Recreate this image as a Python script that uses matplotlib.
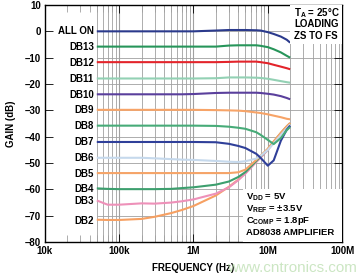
import matplotlib.pyplot as plt
from matplotlib.ticker import FixedLocator, NullFormatter
from matplotlib.patches import Rectangle

# shared frequency points (Hz)
freq = [5e4, 7e4, 1e5, 2e5, 3e5, 5e5, 7e5, 1e6, 2e6, 3e6, 4e6, 5e6,
        7e6, 8e6, 1e7, 1.2e7, 1.5e7, 1.8e7, 2e7]

labels = ["ALL ON", "DB13", "DB12", "DB11", "DB10", "DB9", "DB8",
          "DB7", "DB6", "DB5", "DB4", "DB3", "DB2"]
label_y = [0, -6, -12, -18, -24, -30, -36, -42, -48, -54, -60, -64.5, -72]

all_on = [0.0, 0.0, 0.0, 0.0, 0.0, 0.0, 0.0, 0.0, 0.3, 0.5, 0.5, 0.5,
          0.4, 0.3, -0.3, -1.0, -2.0, -3.2, -4.3]
db13 = [-5.8, -5.8, -5.8, -5.8, -5.8, -5.8, -5.8, -5.8, -5.8, -5.4, -5.3, -5.3,
        -5.3, -5.5, -6.0, -6.8, -8.0, -9.3, -10.0]
db12 = [-11.7, -11.7, -11.7, -11.7, -11.7, -11.7, -11.7, -11.7, -11.7, -11.6, -11.5, -11.5,
        -11.5, -11.7, -12.1, -12.7, -13.4, -14.0, -14.4]
db11 = [-17.9, -17.9, -17.9, -17.9, -17.9, -17.9, -17.9, -17.9, -17.8, -17.5, -17.5, -17.5,
        -17.6, -17.7, -18.0, -18.4, -18.9, -19.3, -19.5]
db10 = [-23.9, -23.9, -23.9, -23.9, -23.9, -23.9, -23.9, -23.8, -23.4, -23.3, -23.3, -23.3,
        -23.3, -23.4, -23.7, -24.0, -24.6, -25.3, -25.8]
db9 = [-29.8, -29.8, -29.8, -29.8, -29.8, -29.8, -29.8, -29.8, -29.9, -30.0, -30.1, -30.3,
       -30.8, -31.0, -31.5, -32.0, -32.6, -33.2, -33.4]
db8 = [-35.8, -35.8, -35.8, -35.8, -35.8, -35.8, -35.8, -35.8, -35.9, -36.2, -36.6, -37.0,
       -38.3, -39.3, -41.2, -42.8, -40.5, -37.5, -36.3]
db7 = [-42.0, -42.0, -42.0, -42.0, -42.0, -42.0, -42.0, -42.0, -42.1, -42.7, -43.5, -44.3,
       -46.5, -48.0, -51.0, -49.0, -41.5, -37.3, -35.8]
db6 = [-48.0, -48.0, -48.0, -48.0, -48.2, -48.5, -48.7, -48.8, -49.2, -49.5, -49.6, -49.3,
       -48.3, -47.3, -45.0, -42.5, -39.3, -36.8, -35.3]
db5 = [-53.8, -53.8, -53.8, -53.8, -53.8, -53.8, -53.8, -53.8, -53.8, -53.8, -53.5, -52.5,
       -48.8, -47.2, -44.6, -41.8, -38.5, -36.0, -34.8]
db4 = [-59.6, -59.8, -59.9, -59.9, -59.9, -59.8, -59.5, -59.2, -58.2, -57.0, -55.3, -53.4,
       -49.2, -47.5, -44.8, -42.0, -38.7, -36.2, -35.0]
db3 = [-64.2, -65.8, -65.8, -65.3, -65.4, -65.0, -64.5, -63.8, -61.6, -59.2, -56.5, -54.0,
       -49.6, -48.0, -45.0, -42.2, -38.9, -36.4, -35.2]
db2 = [-71.5, -71.6, -71.6, -71.2, -70.4, -69.0, -67.8, -66.3, -62.3, -59.0, -56.3, -53.7,
       -49.2, -47.6, -44.7, -41.9, -38.6, -36.1, -34.8]

series = [all_on, db13, db12, db11, db10, db9, db8, db7, db6, db5, db4, db3, db2]
colors = ["#2b3a8c", "#27955a", "#e3242b", "#93d1b4", "#5a3f9c", "#f7a468",
          "#47ab78", "#2f3f99", "#c6d9ec", "#f5a468", "#3d9f6e", "#ee91b9", "#f6a062"]

top_note = ["T$_\\mathbf{A}$ = 25°C", "LOADING", "ZS TO FS"]
bottom_note = ["V$_\\mathbf{DD}$ = 5V", "V$_\\mathbf{REF}$ = \u00b13.5V",
               "C$_\\mathbf{COMP}$ = 1.8pF", "AD8038 AMPLIFIER"]

plt.rcParams['font.family'] = ['Liberation Sans', 'DejaVu Sans']
plt.rcParams['mathtext.fontset'] = 'custom'
plt.rcParams['mathtext.bf'] = 'Liberation Sans:bold'
plt.rcParams['mathtext.rm'] = 'Liberation Sans:bold'
plt.rcParams['mathtext.default'] = 'bf'

fig = plt.figure(figsize=(3.56, 2.77), dpi=100)
ax = fig.add_axes([0.126, 0.126, 0.835, 0.856])
ax.set_xscale('log')
ax.set_xlim(1e4, 1e8)
ax.set_ylim(-80, 10)

# grid only to the right of the label column
minor_x = [m * 10.0 ** d for d in range(4, 8) for m in range(1, 10)]
for f in minor_x:
    if f >= 4.9e4 and f < 1e8:
        ax.axvline(f, color="#a0a0a0", lw=0.8 if f in (1e5, 1e6, 1e7) else 0.6, zorder=1)
for g in range(-70, 10, 10):
    ax.hlines(g, 5e4, 1e8, color="#a0a0a0", lw=0.6, zorder=1)

# reverse so upper traces sit on top
for vals, c in list(zip(series, colors))[::-1]:
    ax.plot(freq, vals, color=c, lw=1.5, zorder=3, solid_capstyle='butt')

for lab, y in zip(labels, label_y):
    ax.text(4.6e4, y, lab, ha='right', va='center', fontsize=7, fontweight='bold', zorder=4)

ax.set_yticks(range(-80, 11, 10))
ax.set_yticklabels([str(v).replace('-', '\u2013') for v in range(-80, 11, 10)])
ax.xaxis.set_major_locator(FixedLocator([1e4, 1e5, 1e6, 1e7, 1e8]))
ax.set_xticklabels(["10k", "100k", "1M", "10M", "100M"])
ax.xaxis.set_minor_locator(FixedLocator(minor_x))
ax.xaxis.set_minor_formatter(NullFormatter())
ax.tick_params(which='both', direction='in', top=True, right=True, labelsize=7, pad=3)
ax.tick_params(which='major', length=6, width=0.6)
ax.tick_params(which='minor', length=5, width=0.6, color="#a0a0a0")
for lbl in ax.get_xticklabels() + ax.get_yticklabels():
    lbl.set_fontweight('bold')
for s in ax.spines.values():
    s.set_linewidth(1.0)

ax.set_ylabel("GAIN (dB)", fontsize=7, fontweight='bold', labelpad=6)
ax.set_xlabel("FREQUENCY (Hz)", fontsize=7, fontweight='bold', labelpad=5)

# white note boxes over the grid
ax.add_patch(Rectangle((0.825, 0.835), 0.175, 0.165, transform=ax.transAxes,
                       facecolor='white', edgecolor='none', zorder=4))
ax.add_patch(Rectangle((0.665, 0.0), 0.335, 0.222, transform=ax.transAxes,
                       facecolor='white', edgecolor='none', zorder=4))
for i, line in enumerate(top_note):
    ax.text(0.838, 0.966 - i * 0.048, line, transform=ax.transAxes, ha='left', va='center',
            fontsize=7, fontweight='bold', zorder=5)
for i, line in enumerate(bottom_note):
    ax.text(0.676, 0.188 - i * 0.049, line, transform=ax.transAxes, ha='left', va='center',
            fontsize=6.8, fontweight='bold', zorder=5)

fig.text(0.82, 0.032, "www.cntronics.com", ha='center', va='center', fontsize=11,
         color="#bfe0b4", alpha=0.8)

fig.savefig("out.png", dpi=100)
